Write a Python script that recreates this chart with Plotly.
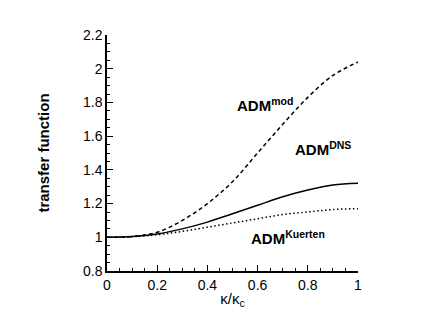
import plotly.graph_objects as go

kappa = [0.0, 0.1, 0.2, 0.3, 0.4, 0.5, 0.6, 0.7, 0.8, 0.9, 1.0]
adm_mod = [1.0, 1.005, 1.03, 1.10, 1.20, 1.33, 1.50, 1.67, 1.83, 1.96, 2.04]
adm_dns = [1.0, 1.004, 1.02, 1.05, 1.09, 1.14, 1.19, 1.24, 1.28, 1.31, 1.32]
adm_kuerten = [1.0, 1.003, 1.015, 1.035, 1.06, 1.085, 1.11, 1.135, 1.15, 1.165, 1.17]

labels = ["ADM<sup>mod</sup>", "ADM<sup>DNS</sup>", "ADM<sup>Kuerten</sup>"]
label_x = [0.63, 0.86, 0.72]
label_y = [1.79, 1.525, 1.0]

font = "Liberation Sans, Arial, Helvetica, sans-serif"

fig = go.Figure()
fig.add_trace(go.Scatter(x=kappa, y=adm_mod, mode="lines",
                         line=dict(color="black", width=1.5, dash="4px,3px", shape="spline")))
fig.add_trace(go.Scatter(x=kappa, y=adm_dns, mode="lines",
                         line=dict(color="black", width=1.5, shape="spline")))
fig.add_trace(go.Scatter(x=kappa, y=adm_kuerten, mode="lines",
                         line=dict(color="black", width=1.5, dash="1.5px,2.5px", shape="spline")))

for t, lx, ly in zip(labels, label_x, label_y):
    fig.add_annotation(x=lx, y=ly, text="<b>" + t + "</b>", showarrow=False,
                       font=dict(family=font, size=15, color="black"))

fig.update_layout(
    width=447, height=316,
    margin=dict(l=99, r=97, t=27, b=53),
    paper_bgcolor="white", plot_bgcolor="white",
    showlegend=False,
    font=dict(family=font, size=14, color="black"),
    xaxis=dict(range=[0, 1], tickvals=[0, 0.2, 0.4, 0.6, 0.8, 1.0],
               ticktext=["0", "0.2", "0.4", "0.6", "0.8", "1"],
               ticks="inside", ticklen=6, tickwidth=1, tickcolor="black",
               minor=dict(dtick=0.05, tick0=0, ticks="inside", ticklen=3, tickcolor="black", tickwidth=1),
               showline=True, linecolor="black", linewidth=1.5, showgrid=False, zeroline=False,
               automargin=False,
               title=dict(text="κ/κ<sub>c</sub>", font=dict(size=15), standoff=2)),
    yaxis=dict(range=[0.8, 2.2], tickvals=[0.8, 1.0, 1.2, 1.4, 1.6, 1.8, 2.0, 2.2],
               ticktext=["0.8", "1", "1.2", "1.4", "1.6", "1.8", "2", "2.2"],
               ticks="inside", ticklen=6, tickwidth=1, tickcolor="black",
               minor=dict(dtick=0.05, tick0=0.8, ticks="inside", ticklen=3, tickcolor="black", tickwidth=1),
               showline=True, linecolor="black", linewidth=1.5, showgrid=False, zeroline=False,
               automargin=False,
               title=dict(text="<b>transfer function</b>", font=dict(size=15), standoff=30)),
)

fig.write_html("out.html")
